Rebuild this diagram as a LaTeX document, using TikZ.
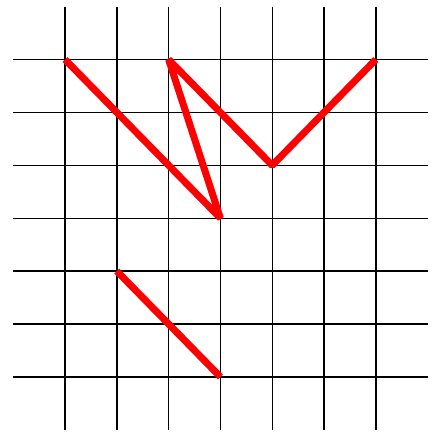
\documentclass[tikz,border=0pt]{standalone}
\usepackage{tikz}

\begin{document}
\begin{tikzpicture}[x=51.8pt, y=-52.9pt,
    gridline/.style={black, line width=1.4pt},
    redpath/.style={red, line width=7pt, line join=bevel}]
    \useasboundingbox (-1.255,-1.125) rectangle (7.278,7.041);
    % grid
    \foreach \i in {0,...,6} {
      \draw[gridline] (\i,-1) -- (\i,7);
      \draw[gridline] (-1,\i) -- (7,\i);
    }
    % points on the grid
    \coordinate (p1) at (0,0);
    \coordinate (p2) at (3,3);
    \coordinate (p3) at (2,0);
    \coordinate (p4) at (4,2);
    \coordinate (p5) at (6,0);
    \coordinate (q1) at (1,4);
    \coordinate (q2) at (3,6);
    % red paths
    \draw[redpath] (p1) -- (p2) -- (p3) -- (p4) -- (p5);
    \draw[redpath] (q1) -- (q2);
\end{tikzpicture}
\end{document}
